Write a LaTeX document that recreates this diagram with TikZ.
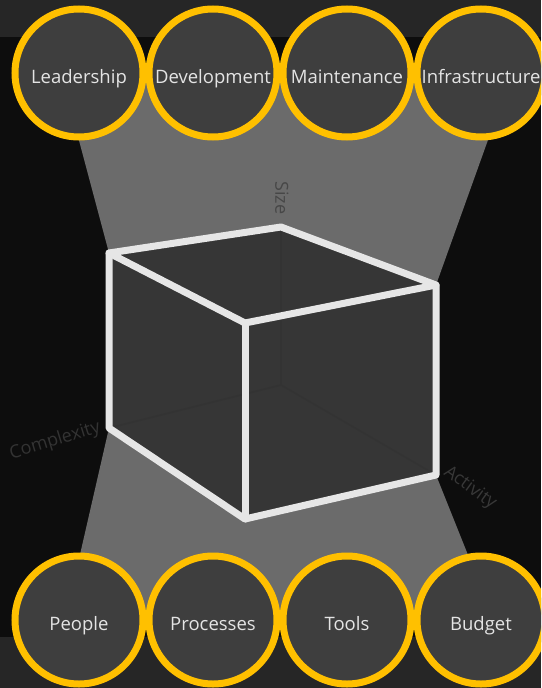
\documentclass[tikz,border=0pt]{standalone}
\usepackage{fontspec}
\setmainfont{Open Sans}
\usetikzlibrary{positioning}
\definecolor{xGold}{RGB}{255,192,0}
\definecolor{xDisc}{RGB}{62,62,62}
\definecolor{xBand}{RGB}{38,38,38}
\definecolor{xNight}{RGB}{13,13,13}
\definecolor{xFunnel}{RGB}{107,107,107}
\definecolor{xFace}{RGB}{54,54,54}
\definecolor{xRim}{RGB}{230,230,230}
\definecolor{xLabel}{RGB}{228,228,228}
\tikzset{
  disc/.style={circle, draw=xGold, fill=xDisc, line width=7pt, minimum size=128pt, inner sep=0pt,
               text=xLabel, font=\fontsize{18.5}{20}\selectfont, text height=20pt, text depth=0pt},
  axis/.style={font=\fontsize{18}{20}\selectfont, inner sep=1pt},
  rim/.style={xRim, line width=7pt, line join=round, line cap=round},
  hidden/.style={black!80, line width=1.5pt},
}

\begin{document}
\begin{tikzpicture}[x=1pt, y=-1pt]
    \useasboundingbox (0,0) rectangle (541,688);
    \clip (0,0) rectangle (541,688);
    \fill[xNight] (0,0) rectangle (541,688);
    \fill[xBand] (0,0) rectangle (541,37);
    \fill[xBand] (0,637) rectangle (541,688);

    \coordinate (tl) at (109,253);
    \coordinate (tb) at (281,227);
    \coordinate (tr) at (436,285);
    \coordinate (tf) at (245,323);
    \coordinate (bl) at (109,428);
    \coordinate (bb) at (281,385);
    \coordinate (br) at (436,475);
    \coordinate (bf) at (245,519);

    \fill[xFunnel] (61,73) -- (512,73) -- (tr) -- (tb) -- (tl) -- cycle;
    \fill[xFunnel] (bl) -- (bf) -- (br) -- (494,620) -- (65,620) -- cycle;

    \fill[xFace] (tl) -- (tb) -- (tr) -- (br) -- (bf) -- (bl) -- cycle;
    \draw[hidden] (tb) -- (bb);
    \draw[hidden] (bl) -- (bb);
    \draw[hidden] (bb) -- (br);
    \draw[rim] (tl) -- (tb) -- (tr) -- (br) -- (bf) -- (bl) -- cycle;
    \draw[rim] (tl) -- (tf) -- (tr);
    \draw[rim] (tf) -- (bf);

    \node[axis, text=black!72, rotate=-90] (size) at (282,198) {Size};
    \node[axis, text=black!80, rotate=17]  (cplx) at (55,441) {Complexity};
    \node[axis, text=black!78, rotate=-36] (actv) at (470,488) {Activity};

    \node[disc] (lead) at (79,73) {Leadership};
    \node[disc, right=-1pt of lead] (dev)   {Development};
    \node[disc, right=-1pt of dev]  (maint) {Maintenance};
    \node[disc, right=-1pt of maint] (infra) {Infrastructure};

    \node[disc] (ppl) at (79,620) {People};
    \node[disc, right=-1pt of ppl]  (proc)  {Processes};
    \node[disc, right=-1pt of proc] (tools) {Tools};
    \node[disc, right=-1pt of tools] (budg) {Budget};
  \end{tikzpicture}
\end{document}
